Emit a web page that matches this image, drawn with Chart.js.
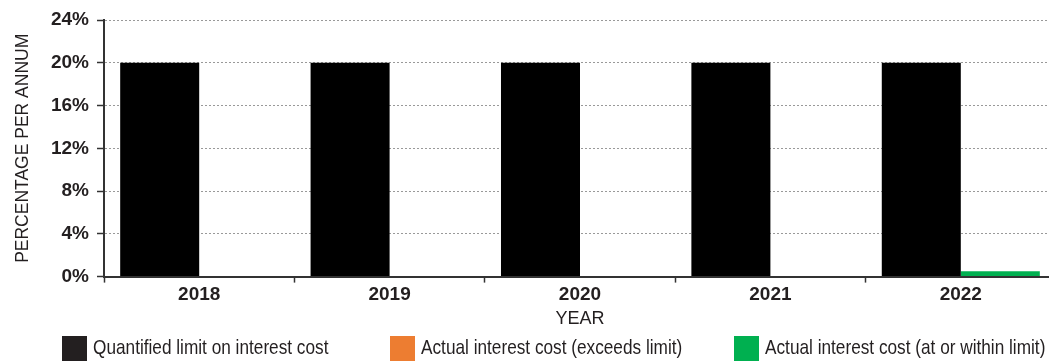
<!DOCTYPE html>
<html>
<head>
<meta charset="utf-8">
<script src="https://cdn.jsdelivr.net/npm/chart.js@4.4.0/dist/chart.umd.min.js"></script>
<style>
  html, body { margin: 0; padding: 0; background: #fff; overflow: hidden; width: 1049px; height: 361px; }
  canvas { display: block; }
</style>
</head>
<body>
<canvas id="c" width="1060" height="361" style="width:1060px;height:361px"></canvas>
<script>
// ---- data ----
const years = ['2018', '2019', '2020', '2021', '2022'];
const quantifiedLimit = [20, 20, 20, 20, 20];
const actualExceeds = [0, 0, 0, 0, 0];
const actualWithin = [0, 0, 0, 0, 0.5];
const yTickLabels = ['0%', '4%', '8%', '12%', '16%', '20%', '24%'];
const seriesNames = ['Quantified limit on interest cost', 'Actual interest cost (exceeds limit)', 'Actual interest cost (at or within limit)'];
const yTitle = 'PERCENTAGE PER ANNUM';
const xTitle = 'YEAR';

// ---- styles ----
const TEXT = '#231f20';
const AXIS = '#333333';
const COLORS = ['#000000', '#ed7d31', '#00b050'];
const LEGEND_COLORS = ['#231f20', '#ed7d31', '#00b050'];
const LEGEND_X = [62, 390, 734];

const legendPlugin = {
  id: 'customLegend',
  afterDraw(chart) {
    const ctx = chart.ctx;
    ctx.save();
    chart.data.datasets.forEach((ds, i) => {
      const x = LEGEND_X[i];
      const y = 336;
      ctx.fillStyle = LEGEND_COLORS[i];
      ctx.fillRect(x, y, 25, 25);
      ctx.save();
      ctx.translate(x + 31, y + 12.5);
      ctx.scale(0.82, 1);
      ctx.fillStyle = TEXT;
      ctx.font = '21px "Liberation Sans", Arial, sans-serif';
      ctx.textBaseline = 'middle';
      ctx.textAlign = 'left';
      ctx.fillText(ds.label, 0, 0);
      ctx.restore();
    });
    ctx.restore();
  }
};

new Chart(document.getElementById('c'), {
  type: 'bar',
  data: {
    labels: years,
    datasets: [
      { label: seriesNames[0], data: quantifiedLimit, backgroundColor: COLORS[0], stack: 'limit' },
      { label: seriesNames[1], data: actualExceeds, backgroundColor: COLORS[1], stack: 'actual' },
      { label: seriesNames[2], data: actualWithin, backgroundColor: COLORS[2], stack: 'actual' }
    ]
  },
  options: {
    responsive: false,
    animation: false,
    devicePixelRatio: 1,
    categoryPercentage: 0.83,
    barPercentage: 1,
    layout: { padding: { top: 20, right: 4, bottom: 31, left: 0 } },
    plugins: {
      legend: { display: false },
      tooltip: { enabled: false }
    },
    scales: {
      x: {
        grid: { display: true, drawOnChartArea: false, color: AXIS, tickLength: 6, tickWidth: 1.5, offset: true },
        border: { display: true, color: AXIS, width: 2 },
        ticks: { color: TEXT, padding: 1, font: { family: '"Liberation Sans", Arial, sans-serif', size: 19, weight: 'bold' } },
        title: { display: true, text: xTitle, color: TEXT, padding: { top: 1, bottom: 0 }, font: { family: '"Liberation Sans", Arial, sans-serif', size: 18 } }
      },
      y: {
        min: 0, max: 24,
        afterFit(s) { s.width = 104; },
        ticks: {
          stepSize: 4, color: TEXT, padding: 8,
          font: { family: '"Liberation Sans", Arial, sans-serif', size: 19, weight: 'bold' },
          callback: (v, i) => yTickLabels[i]
        },
        grid: { color: '#999999', lineWidth: 1, tickLength: 7, tickWidth: 1.5, tickColor: AXIS, tickBorderDash: [] },
        border: { display: true, color: AXIS, width: 2, dash: [2, 2] },
        title: { display: true, text: yTitle, color: TEXT, padding: { top: 13, bottom: 0 }, font: { family: '"Liberation Sans", Arial, sans-serif', size: 17.5 } }
      }
    }
  },
  plugins: [legendPlugin]
});
</script>
</body>
</html>
